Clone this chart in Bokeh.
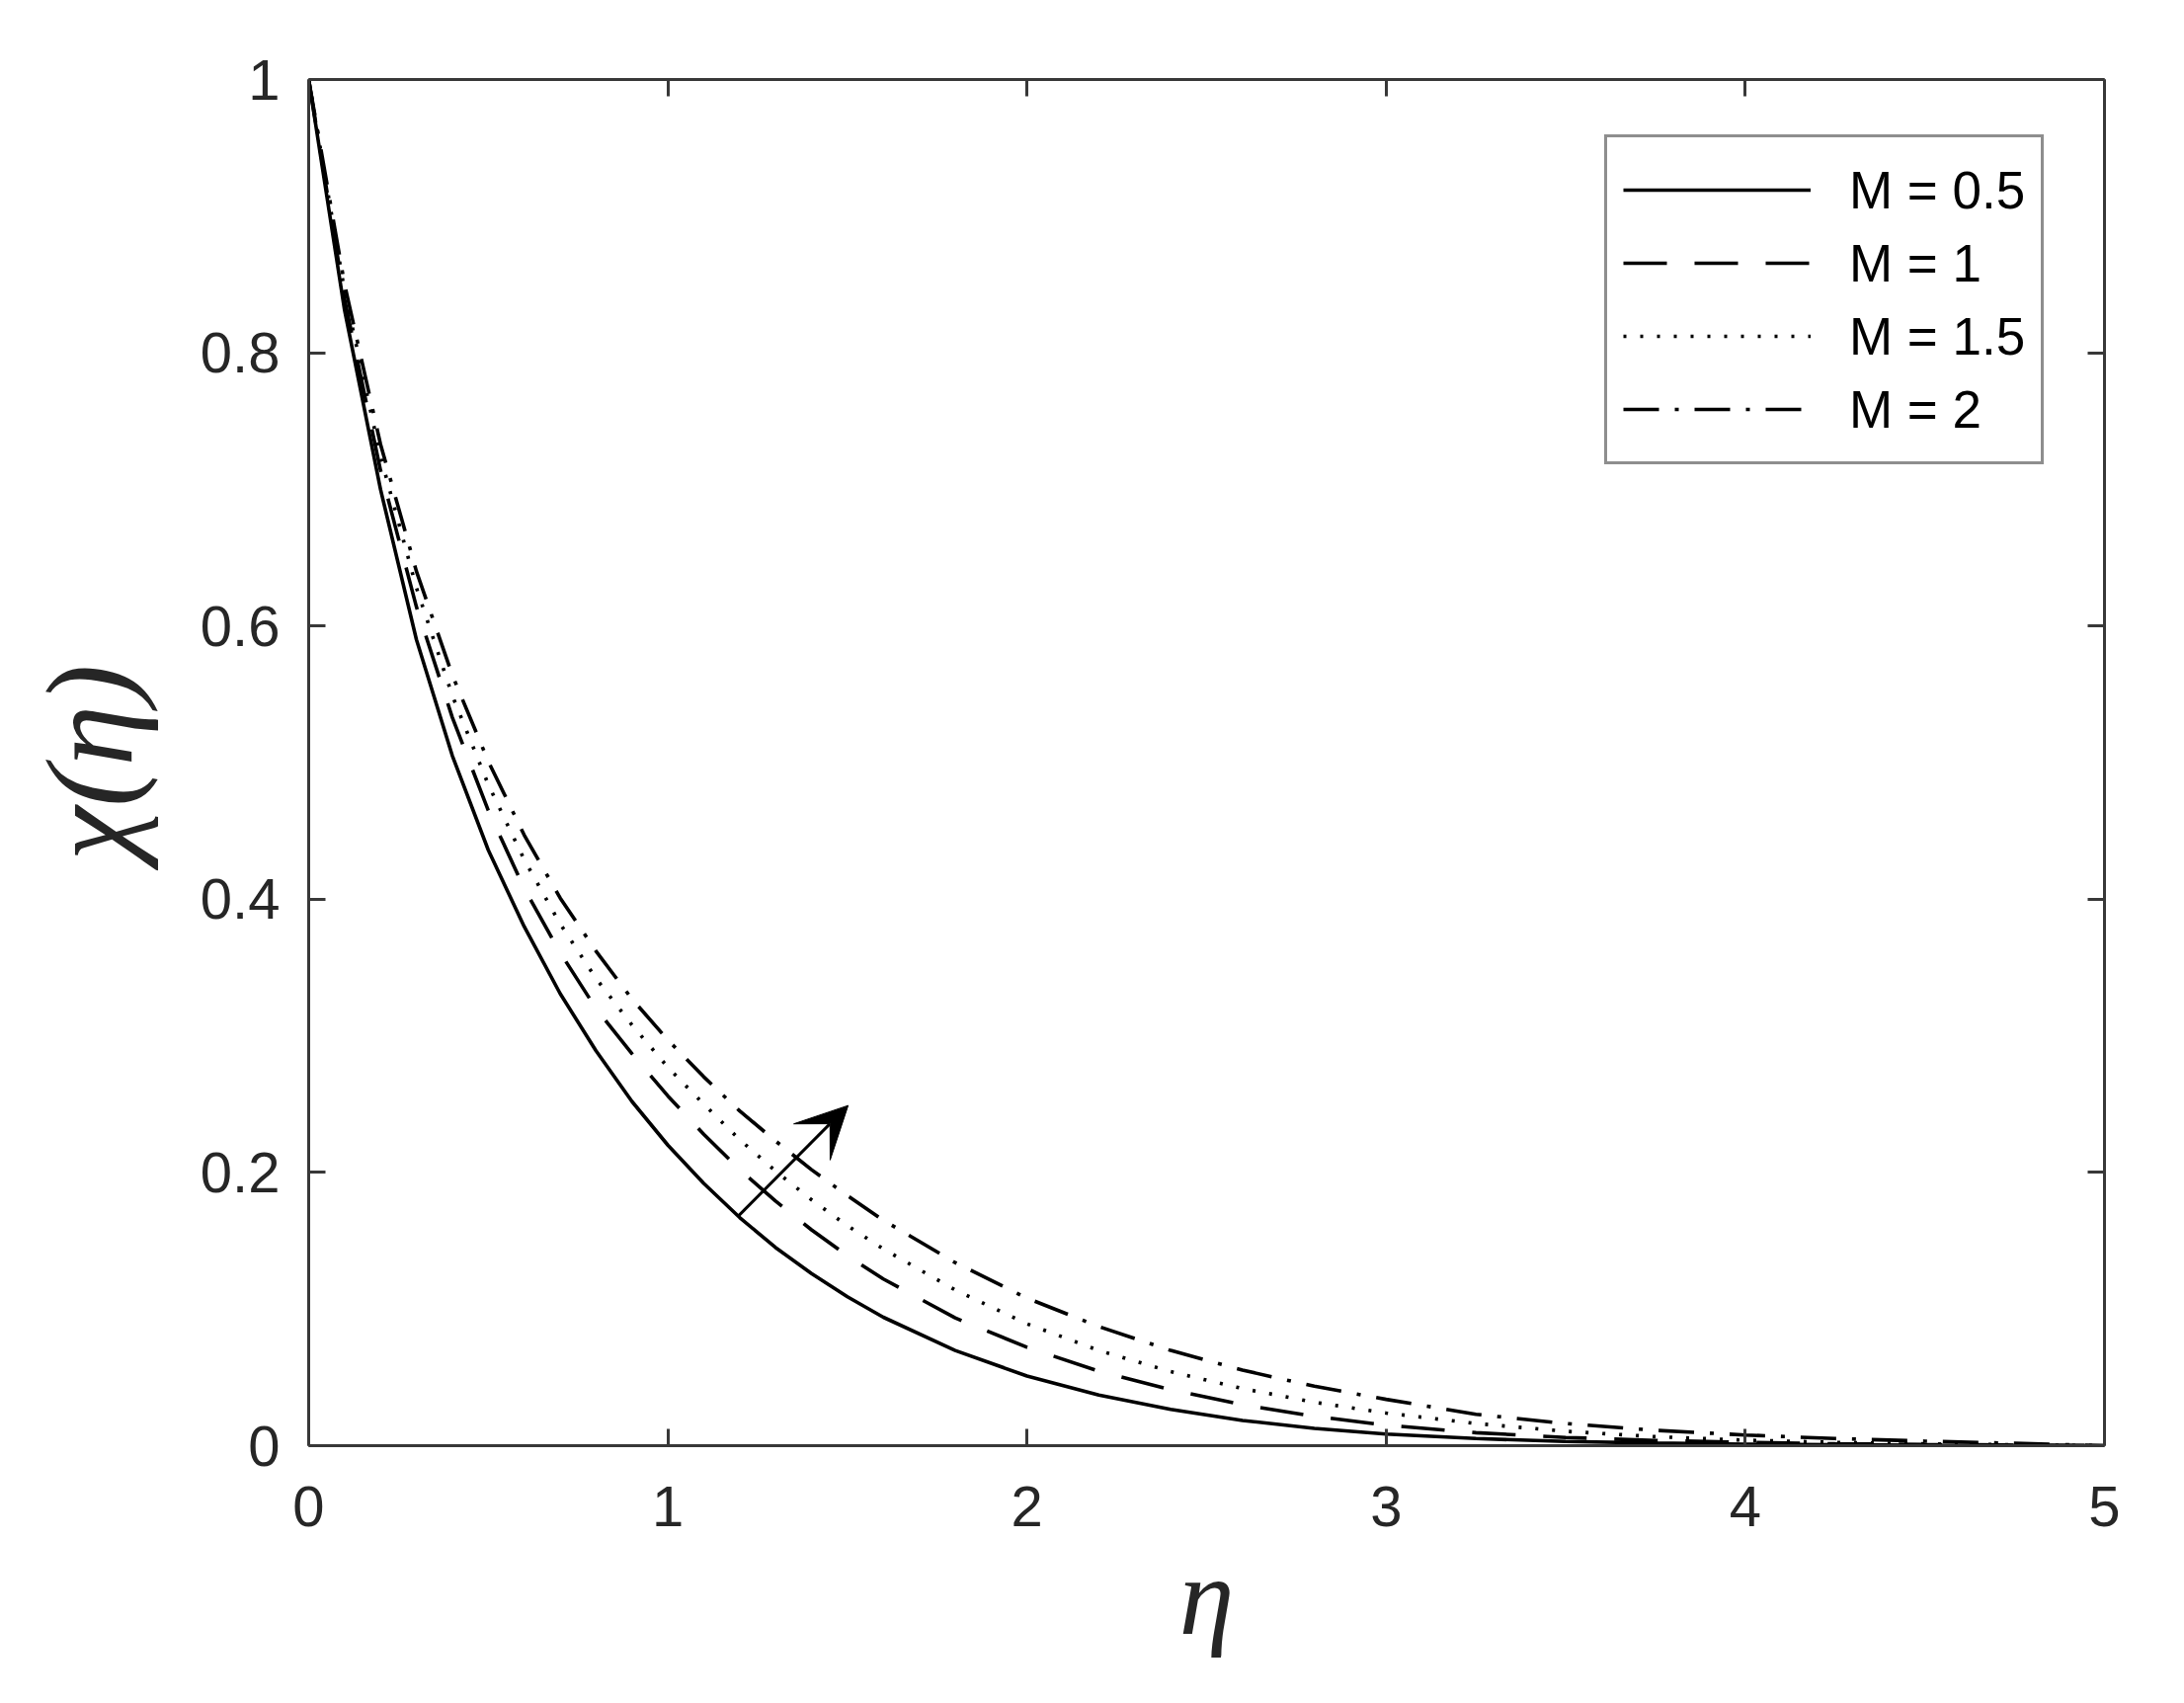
from bokeh.plotting import figure
from bokeh.models import (LinearAxis, Legend, LegendItem, Arrow, VeeHead,
                          FixedTicker, CustomJSTickFormatter, Range1d)
from bokeh.embed import file_html
from bokeh.resources import INLINE

# ---- data ----
eta = [0.0, 0.1, 0.2, 0.3, 0.4, 0.5, 0.6, 0.7, 0.8, 0.9, 1.0, 1.1, 1.2, 1.3,
       1.4, 1.5, 1.6, 1.8, 2.0, 2.2, 2.4, 2.6, 2.8, 3.0, 3.25, 3.5, 3.75, 4.0,
       4.25, 4.5, 4.75, 5.0]
chi_M05 = [1.0, 0.831, 0.700, 0.590, 0.505, 0.436, 0.380, 0.331, 0.289, 0.252,
           0.220, 0.192, 0.167, 0.145, 0.126, 0.109, 0.094, 0.0697, 0.051,
           0.037, 0.0266, 0.0185, 0.0127, 0.0085, 0.0052, 0.0031, 0.0019,
           0.0011, 0.0006, 0.0003, 0.00015, 0.0]
chi_M1 = [1.0, 0.839, 0.714, 0.614, 0.533, 0.465, 0.408, 0.361, 0.320, 0.287,
          0.256, 0.228, 0.202, 0.179, 0.158, 0.139, 0.122, 0.0935, 0.072,
          0.0545, 0.041, 0.030, 0.0215, 0.015, 0.0095, 0.006, 0.0038, 0.0024,
          0.0014, 0.0008, 0.0004, 0.0]
chi_M15 = [1.0, 0.845, 0.724, 0.628, 0.549, 0.484, 0.429, 0.382, 0.342, 0.308,
           0.277, 0.250, 0.224, 0.201, 0.180, 0.161, 0.144, 0.114, 0.0892,
           0.0697, 0.0542, 0.0418, 0.0318, 0.0239, 0.0162, 0.0105, 0.0066,
           0.0040, 0.0024, 0.0013, 0.0006, 0.0]
chi_M2 = [1.0, 0.850, 0.733, 0.640, 0.564, 0.501, 0.447, 0.401, 0.362, 0.327,
          0.297, 0.270, 0.245, 0.223, 0.202, 0.183, 0.165, 0.134, 0.108,
          0.0872, 0.0697, 0.0553, 0.0435, 0.0339, 0.023, 0.0162, 0.0112,
          0.0078, 0.0052, 0.0033, 0.0017, 0.0]
series_labels = ["M = 0.5", "M = 1", "M = 1.5", "M = 2"]

x_ticks = [0, 1, 2, 3, 4, 5]
x_tick_labels = ["0", "1", "2", "3", "4", "5"]
y_ticks = [0, 0.2, 0.4, 0.6, 0.8, 1]
y_tick_labels = ["0", "0.2", "0.4", "0.6", "0.8", "1"]

# arrow annotation (direction of increasing M)
arrow_start = (1.196, 0.168)
arrow_end = (1.502, 0.249)

AX = "#383838"
TXT = "#262626"

p = figure(frame_width=1818, frame_height=1383,
           x_range=Range1d(0, 5), y_range=Range1d(0, 1),
           output_backend="svg", toolbar_location=None,
           min_border_left=312, min_border_right=65,
           min_border_top=80, min_border_bottom=230,
           background_fill_color="white", border_fill_color="white")
p.grid.visible = False
p.outline_line_color = None

def style_axis(ax, ticks):
    ax.ticker = FixedTicker(ticks=ticks)
    ax.axis_line_color = AX
    ax.axis_line_width = 3
    ax.major_tick_line_color = AX
    ax.major_tick_line_width = 3
    ax.major_tick_in = 17
    ax.major_tick_out = 0
    ax.minor_tick_in = 0
    ax.minor_tick_out = 0
    ax.major_label_text_font = "Liberation Sans"
    ax.major_label_text_font_size = "58px"
    ax.major_label_text_color = TXT

xa = p.xaxis[0]
style_axis(xa, x_ticks)
xa.major_label_overrides = {t: l for t, l in zip(x_ticks, x_tick_labels)}
xa.major_label_standoff = 41
xa.axis_label = "η"
xa.axis_label_text_font = "Liberation Serif"
xa.axis_label_text_font_style = "italic"
xa.axis_label_text_font_size = "112px"
xa.axis_label_text_color = TXT
xa.axis_label_standoff = 6

ya = p.yaxis[0]
style_axis(ya, y_ticks)
ya.major_label_overrides = {t: l for t, l in zip(y_ticks, y_tick_labels)}
ya.major_label_standoff = 29
ya.axis_label = "χ(η)"
ya.axis_label_text_font = "Liberation Serif"
ya.axis_label_text_font_style = "italic"
ya.axis_label_text_font_size = "124px"
ya.axis_label_text_color = TXT
ya.axis_label_standoff = 40

blank = CustomJSTickFormatter(code="return ''")
top = LinearAxis(formatter=blank)
style_axis(top, x_ticks)
top.major_label_text_font_size = "1px"
top.major_label_standoff = 0
p.add_layout(top, "above")
right = LinearAxis(formatter=blank)
style_axis(right, y_ticks)
right.major_label_text_font_size = "1px"
right.major_label_standoff = 0
p.add_layout(right, "right")

LW = 3.6
r1 = p.line(eta, chi_M05, line_color="black", line_width=LW)
r2 = p.line(eta, chi_M1, line_color="black", line_width=LW, line_dash="44 28")
r3 = p.line(eta, chi_M15, line_color="black", line_width=LW, line_dash="3 14")
r4 = p.line(eta, chi_M2, line_color="black", line_width=LW, line_dash="36 16 4 16")

p.add_layout(Arrow(end=VeeHead(size=52, fill_color="black", line_color="black",
                               line_width=1),
                   x_start=arrow_start[0], y_start=arrow_start[1],
                   x_end=arrow_end[0], y_end=arrow_end[1],
                   line_color="black", line_width=3))

legend = Legend(items=[LegendItem(label=l, renderers=[r])
                       for l, r in zip(series_labels, [r1, r2, r3, r4])],
                location=(1312, 993),
                padding=16, spacing=0, margin=0,
                glyph_width=190, glyph_height=74, label_height=74,
                label_standoff=39,
                label_text_font="Liberation Sans", label_text_font_size="53px",
                label_text_color="black",
                border_line_color="#1e1e1e", border_line_width=3.5,
                background_fill_color="white", background_fill_alpha=1.0)
p.add_layout(legend)

open("out.html", "w").write(file_html(p, INLINE))
